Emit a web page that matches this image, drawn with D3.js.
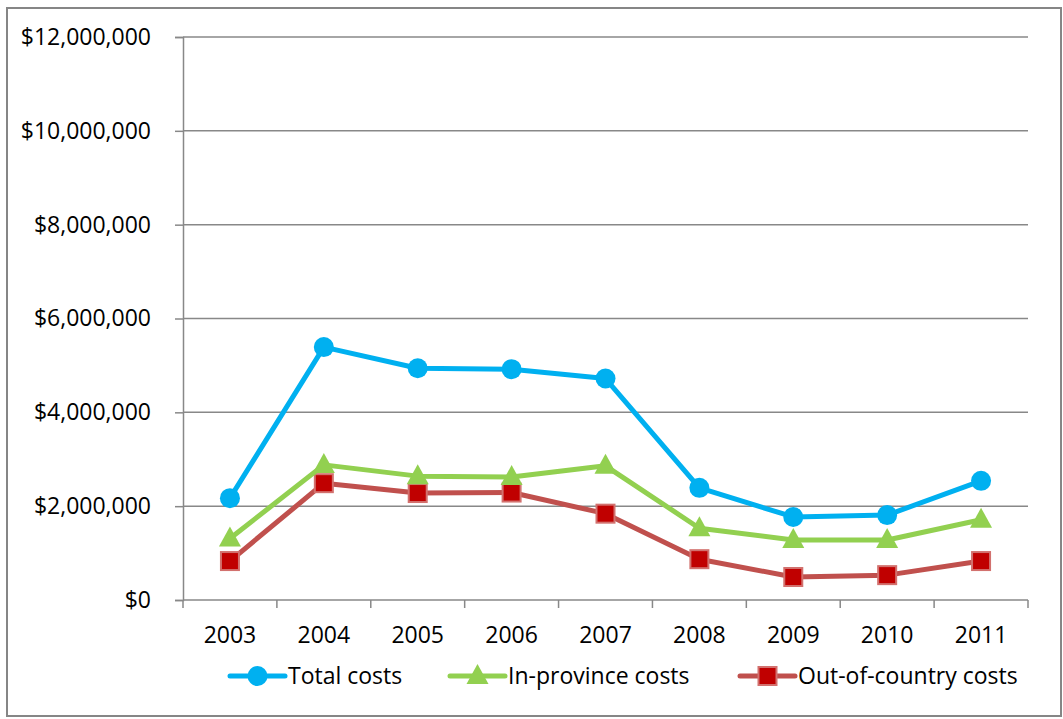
<!DOCTYPE html>
<html>
<head>
<meta charset="utf-8">
<script src="https://cdn.jsdelivr.net/npm/d3@7"></script>
<style>
  body { margin: 0; background: #fff; }
  text { font-family: "Open Sans", "Liberation Sans", Arial, sans-serif; fill: #000; }
</style>
</head>
<body>
<div id="chart"></div>
<script>
const years = ["2003", "2004", "2005", "2006", "2007", "2008", "2009", "2010", "2011"];
const totalCosts = [2170000, 5390000, 4940000, 4920000, 4720000, 2390000, 1770000, 1810000, 2540000];
const inProvinceCosts = [1310000, 2880000, 2640000, 2620000, 2860000, 1530000, 1280000, 1280000, 1710000];
const outOfCountryCosts = [830000, 2490000, 2280000, 2290000, 1840000, 870000, 490000, 530000, 830000];
const yTicks = [0, 2000000, 4000000, 6000000, 8000000, 10000000, 12000000];

const series = [
  { name: "Total costs", values: totalCosts, line: "#00b0f0", fill: "#00b0f0", stroke: "#00b0f0", shape: "circle" },
  { name: "In-province costs", values: inProvinceCosts, line: "#92d050", fill: "#92d050", stroke: "#92d050", shape: "triangle" },
  { name: "Out-of-country costs", values: outOfCountryCosts, line: "#c0504d", fill: "#c00000", stroke: "#d2716e", shape: "square" }
];

const W = 1063, H = 719;
const margin = { top: 37, right: 35, bottom: 119, left: 183 };
const width = W - margin.left - margin.right,
      height = H - margin.top - margin.bottom;

const svg = d3.select("#chart").append("svg")
    .attr("width", W)
    .attr("height", H);

// outer frame
svg.append("rect")
    .attr("x", 7).attr("y", 8)
    .attr("width", 1054).attr("height", 708)
    .attr("fill", "#fff")
    .attr("stroke", "#868686")
    .attr("stroke-width", 2);

const g = svg.append("g")
    .attr("transform", "translate(" + margin.left + "," + margin.top + ")");

const xScale = d3.scaleBand().domain(years).range([0, width]);
const yScale = d3.scaleLinear().domain([0, 12000000]).range([height, 0]);

// gridlines
g.append("g")
    .selectAll("line")
    .data(yTicks.slice(1))
    .join("line")
    .attr("x1", 0).attr("x2", width)
    .attr("y1", d => yScale(d)).attr("y2", d => yScale(d))
    .attr("stroke", "#888")
    .attr("stroke-width", 1.5);

const fmt = d => "$" + d3.format(",")(d);

const yAxis = d3.axisLeft(yScale).tickValues(yTicks).tickFormat(fmt).tickSize(8).tickPadding(24);
const yg = g.append("g").attr("class", "axis y-axis").call(yAxis);
yg.select(".domain").attr("stroke", "#888").attr("stroke-width", 1.5);
yg.selectAll(".tick line").attr("stroke", "#888").attr("stroke-width", 1.5);
yg.selectAll("text").style("font-size", "23px").style("font-family", "'Open Sans', sans-serif").attr("fill", "#000");

// x axis with ticks at category boundaries
const xg = g.append("g").attr("class", "axis x-axis")
    .attr("transform", `translate(0, ${height})`);
xg.append("line")
    .attr("x1", 0).attr("x2", width)
    .attr("stroke", "#888").attr("stroke-width", 1.5);
const bounds = years.map(d => xScale(d)).concat([width]);
xg.selectAll(".xt")
    .data(bounds)
    .join("line")
    .attr("class", "xt")
    .attr("x1", d => d).attr("x2", d => d)
    .attr("y1", 0).attr("y2", 8)
    .attr("stroke", "#888").attr("stroke-width", 1.5);
xg.selectAll(".xl")
    .data(years)
    .join("text")
    .attr("class", "xl")
    .attr("x", d => xScale(d) + xScale.bandwidth() / 2)
    .attr("y", 43)
    .attr("text-anchor", "middle")
    .style("font-size", "23px")
    .text(d => d);

const cx = (d, i) => xScale(years[i]) + xScale.bandwidth() / 2;

function drawMarker(sel, s) {
  if (s.shape === "circle") {
    sel.append("circle").attr("r", 10).attr("fill", s.fill);
  } else if (s.shape === "triangle") {
    sel.append("path").attr("d", "M0,-12L11,8L-11,8Z").attr("fill", s.fill);
  } else {
    sel.append("rect").attr("x", -9).attr("y", -9).attr("width", 18).attr("height", 18)
        .attr("fill", s.fill).attr("stroke", s.stroke).attr("stroke-width", 2);
  }
}

const line = d3.line().x(cx).y(d => yScale(d));

series.slice().reverse().forEach(s => {
  g.append("path")
      .datum(s.values)
      .attr("fill", "none")
      .attr("stroke", s.line)
      .attr("stroke-width", 5)
      .attr("stroke-linejoin", "round")
      .attr("d", line);
  s.values.forEach((v, i) => {
    const m = g.append("g").attr("transform", `translate(${cx(v, i)},${yScale(v)})`);
    drawMarker(m, s);
  });
});

// legend
const legendX = [230, 450, 740];
const legend = svg.append("g").attr("transform", "translate(0, 676)");
series.forEach((s, i) => {
  const lg = legend.append("g").attr("transform", `translate(${legendX[i]},0)`);
  lg.append("line").attr("x1", 0).attr("x2", 55)
      .attr("stroke", s.line).attr("stroke-width", 5).attr("stroke-linecap", "round");
  const m = lg.append("g").attr("transform", "translate(27.5,0)");
  drawMarker(m, s);
  lg.append("text").attr("x", 58).attr("y", 8).style("font-size", "23px").text(s.name);
});
</script>
</body>
</html>
